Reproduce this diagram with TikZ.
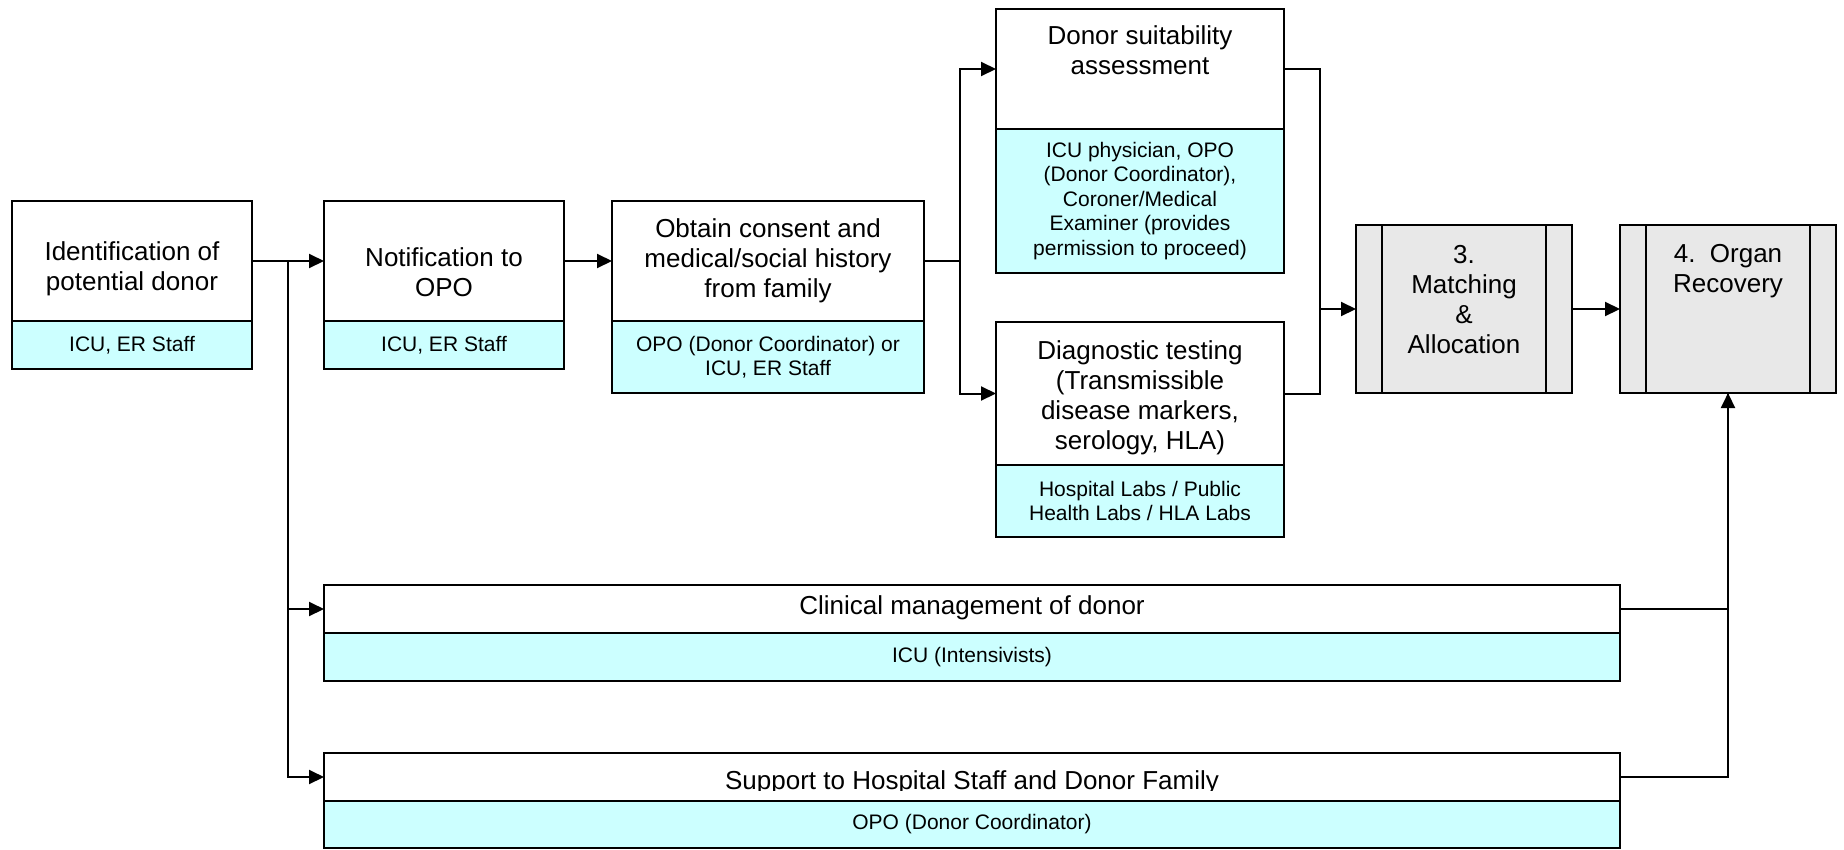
\documentclass[tikz,border=0pt]{standalone}
\usepackage{fontspec}
\setmainfont{Liberation Sans}
\usetikzlibrary{arrows.meta}
\definecolor{subcyan}{HTML}{CCFFFF}
\definecolor{procgray}{HTML}{E8E8E8}
\newcommand\ttlfont{\fontsize{26}{30}\selectfont}
\newcommand\subfont{\fontsize{21}{24.5}\selectfont}
\tikzset{
  boxw/.style={draw, line width=1.8pt, fill=white, inner sep=0pt, outer sep=0pt},
  boxc/.style={draw, line width=1.8pt, fill=subcyan, inner sep=0pt, outer sep=0pt, align=center, font=\subfont},
  procbox/.style={draw, line width=1.8pt, fill=procgray, inner sep=0pt, outer sep=0pt},
  ttl/.style={inner sep=0pt, align=center, font=\ttlfont},
  conn/.style={line width=2pt},
  arr/.style={conn, -{Triangle[length=15pt,width=14pt]}},
}
\begin{document}
\begin{tikzpicture}[x=1pt,y=-1pt]
\useasboundingbox (0,0) rectangle (1844,849);

% Identification
\node[boxw, minimum width=240pt, minimum height=120pt] (identT) at (132,261) {};
\node[boxc, minimum width=240pt, minimum height=48pt] (identS) at (132,345) {ICU, ER Staff};
\node[ttl] (identL) at (132,269) {Identification of\\potential donor};

% Notification
\node[boxw, minimum width=240pt, minimum height=120pt] (notifT) at (444,261) {};
\node[boxc, minimum width=240pt, minimum height=48pt] (notifS) at (444,345) {ICU, ER Staff};
\node[ttl] (notifL) at (444,272.5) {Notification to\\OPO};

% Consent
\node[boxw, minimum width=312pt, minimum height=120pt] (consT) at (768,261) {};
\node[boxc, minimum width=312pt, minimum height=72pt] (consS) at (768,357) {OPO (Donor Coordinator) or\\ICU, ER Staff};
\node[ttl] (consL) at (768,261) {Obtain consent and\\medical/social history\\from family};

% Donor suitability
\node[boxw, minimum width=288pt, minimum height=120pt] (donT) at (1140,69) {};
\node[boxc, minimum width=288pt, minimum height=144pt] (donS) at (1140,201) {ICU physician, OPO\\(Donor Coordinator),\\Coroner/Medical\\Examiner (provides\\permission to proceed)};
\node[ttl] (donL) at (1140,50.5) {Donor suitability\\assessment};

% Diagnostic testing
\node[boxw, minimum width=288pt, minimum height=143pt] (diagT) at (1140,393.5) {};
\node[boxc, minimum width=288pt, minimum height=72pt] (diagS) at (1140,501) {Hospital Labs / Public\\Health Labs / HLA Labs};
\node[ttl] (diagL) at (1140,398) {Diagnostic testing\\(Transmissible\\disease markers,\\serology, HLA)};

% Matching & Allocation
\node[procbox, minimum width=216pt, minimum height=168pt] (match) at (1464,309) {};
\draw[line width=1.8pt] ([xshift=26pt]match.north west) -- ([xshift=26pt]match.south west);
\draw[line width=1.8pt] ([xshift=-26pt]match.north east) -- ([xshift=-26pt]match.south east);
\node[ttl] (matchL) at (1464,300) {3.\\Matching\\\&\\Allocation};

% Organ Recovery
\node[procbox, minimum width=216pt, minimum height=168pt] (organ) at (1728,309) {};
\draw[line width=1.8pt] ([xshift=26pt]organ.north west) -- ([xshift=26pt]organ.south west);
\draw[line width=1.8pt] ([xshift=-26pt]organ.north east) -- ([xshift=-26pt]organ.south east);
\node[ttl] (organL) at (1728,271) {4.\ \ Organ\\Recovery};

% Clinical management
\node[boxw, minimum width=1296pt, minimum height=48pt] (clinT) at (972,609) {};
\node[boxc, minimum width=1296pt, minimum height=48pt] (clinS) at (972,657) {ICU (Intensivists)};
\node[ttl] (clinL) at (972,608) {Clinical management of donor};

% Support
\node[boxw, minimum width=1296pt, minimum height=48pt] (supT) at (972,777) {};
\begin{scope}
\clip (324,753) rectangle (1620,790);
\node[ttl] (supL) at (972,782.5) {Support to Hospital Staff and Donor Family};
\end{scope}
\node[boxc, minimum width=1296pt, minimum height=47pt] (supS) at (972,824.5) {OPO (Donor Coordinator)};

% Connectors
\coordinate (br1) at (288,261);
\draw[arr] (identT.east) -- (notifT.west);
\draw[arr] (br1) |- (clinT.west);
\draw[arr] (br1) |- (supT.west);
\draw[arr] (notifT.east) -- (consT.west);

\coordinate (br2) at (960,261);
\draw[conn] (consT.east) -- (br2);
\draw[arr] (br2) |- (donT.west);
\draw[arr] (br2) |- (diagT.west);

\coordinate (mg) at (1320,309);
\draw[conn] (donT.east) -| (mg);
\draw[conn] (diagT.east) -| (mg);
\draw[arr] (mg) -- (match.west);

\draw[arr] (match.east) -- (organ.west);

\draw[conn] (clinT.east) -| (organ.south);
\draw[arr] (supT.east) -| (organ.south);
\end{tikzpicture}
\end{document}
